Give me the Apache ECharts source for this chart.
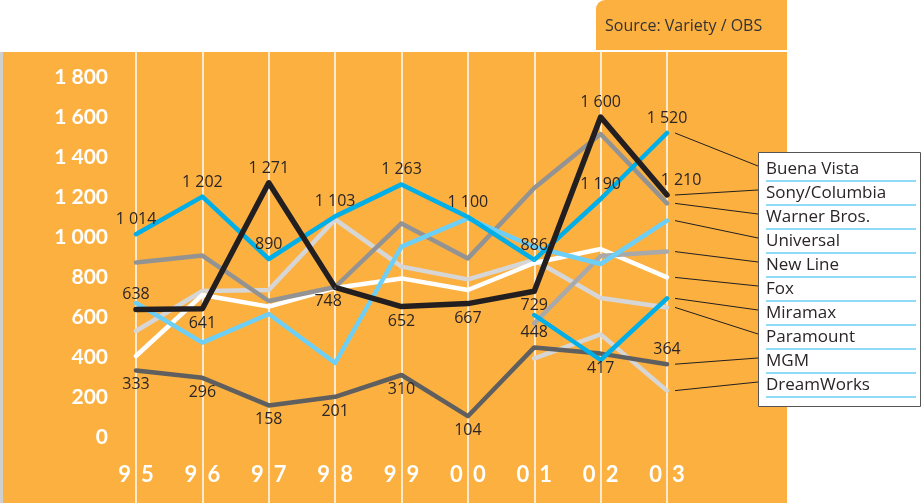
<!DOCTYPE html>
<html lang="en">
<head>
<meta charset="utf-8"/>
<title>Studios</title>
<script src="https://cdn.jsdelivr.net/npm/echarts@6.0.0/dist/echarts.min.js"></script>
<style>
    html, body { margin: 0; background: #fff; }
    #container { width: 922px; height: 503px; }
</style>
</head>
<body>
<div id="container"></div>
<script type="text/javascript">
// data (box office, millions)
var years = ['95', '96', '97', '98', '99', '00', '01', '02', '03'];
var yTicks = [0, 200, 400, 600, 800, 1000, 1200, 1400, 1600, 1800];

var buenaVista   = [1014, 1202, 890, 1103, 1263, 1100, 886, 1190, 1520];
var sonyColumbia = [638, 641, 1271, 748, 652, 667, 729, 1600, 1210];
var warnerBros   = [873, 907, 680, 750, 1068, 893, 1245, 1515, 1168];
var universal    = [670, 472, 615, 370, 952, 1093, 950, 865, 1082];
var newLine      = [null, null, null, null, null, null, 568, 905, 927];
var fox          = [405, 710, 652, 745, 793, 735, 870, 940, 798];
var miramax      = [null, null, null, null, null, null, 610, 385, 693];
var paramount    = [530, 730, 735, 1088, 852, 788, 885, 695, 648];
var mgm          = [333, 296, 158, 201, 310, 104, 448, 417, 364];
var dreamWorks   = [null, null, null, null, null, null, 393, 513, 232];

var legendNames = ['Buena Vista', 'Sony/Columbia', 'Warner Bros.', 'Universal', 'New Line',
    'Fox', 'Miramax', 'Paramount', 'MGM', 'DreamWorks'];

// which side of the line each value label sits on
var buenaSide = ['top', 'top', 'top', 'top', 'top', 'top', 'top', 'top', 'top'];
var sonySide  = ['top', 'bottom', 'top', 'bottom', 'bottom', 'bottom', 'bottom', 'top', 'top'];
var mgmSide   = ['bottom', 'bottom', 'bottom', 'bottom', 'bottom', 'bottom', 'top', 'bottom', 'top'];

function fmt(v) {
    var s = String(v);
    if (v >= 1000) s = s.slice(0, s.length - 3) + ' ' + s.slice(s.length - 3);
    return s;
}

function labelled(values, sides, shifts) {
    return values.map(function (v, i) {
        return {
            value: v,
            label: {
                show: true,
                position: sides[i],
                offset: [shifts && shifts[i] ? shifts[i] : 0, 0]
            }
        };
    });
}

function line(name, data, color, width) {
    return {
        name: name,
        type: 'line',
        data: data,
        symbol: 'circle',
        symbolSize: 1,
        showSymbol: true,
        connectNulls: false,
        itemStyle: { color: color },
        lineStyle: { color: color, width: width || 4.5, cap: 'round', join: 'round' },
        label: {
            show: false,
            distance: 6,
            color: '#2b2526',
            fontFamily: 'Open Sans',
            fontSize: 16,
            formatter: function (p) { return fmt(p.value); }
        },
        emphasis: { disabled: true },
        silent: true
    };
}

var dom = document.getElementById('container');
var myChart = echarts.init(dom);

var series = [
    line('Paramount', paramount, '#d6d6d6'),
    line('DreamWorks', dreamWorks, '#d6d6d6'),
    line('Fox', fox, '#ffffff'),
    line('New Line', newLine, '#a9a9a9'),
    line('Warner Bros.', warnerBros, '#939393'),
    line('Universal', universal, '#6dcff6'),
    line('MGM', labelled(mgm, mgmSide), '#5f5f5f'),
    line('Miramax', miramax, '#00aee8'),
    line('Buena Vista', labelled(buenaVista, buenaSide), '#00aee8'),
    line('Sony/Columbia', labelled(sonyColumbia, sonySide, [0, 0, 0, -7, 0, 0, 0, 0, 14]), '#231f20', 5.5)
];

var option = {
    animation: false,
    backgroundColor: '#ffffff',
    grid: [
        { left: 136, right: 255, top: 77, bottom: 66 },
        { left: 136, right: 255, top: 52, bottom: 0 }
    ],
    xAxis: [
        {
            type: 'category',
            gridIndex: 0,
            data: years,
            boundaryGap: false,
            axisLine: { show: false },
            axisTick: { show: false },
            splitLine: { show: false },
            axisLabel: {
                interval: 0,
                margin: 27,
                formatter: function (v) { return '{a|' + v.charAt(0) + '}{b|' + v.charAt(1) + '}'; },
                rich: {
                    a: { color: '#fff', fontFamily: 'Lato', fontWeight: 'bold', fontSize: 22, padding: [0, 5, 0, 0] },
                    b: { color: '#fff', fontFamily: 'Lato', fontWeight: 'bold', fontSize: 22, padding: [0, 0, 0, 5] }
                }
            }
        },
        {
            type: 'category',
            gridIndex: 1,
            data: years,
            boundaryGap: false,
            axisLine: { show: false },
            axisTick: { show: false },
            axisLabel: { show: false, interval: 0 },
            splitLine: { show: true, interval: 0, lineStyle: { color: '#ffffff', width: 1.5 } }
        }
    ],
    yAxis: [
        {
            type: 'value',
            gridIndex: 0,
            min: yTicks[0],
            max: yTicks[yTicks.length - 1],
            interval: 200,
            axisLine: { show: false },
            axisTick: { show: false },
            splitLine: { show: false },
            axisLabel: {
                margin: 28,
                color: '#ffffff',
                fontFamily: 'Lato',
                fontWeight: 'bold',
                fontSize: 21,
                formatter: function (v) { return fmt(v); }
            }
        },
        { type: 'value', gridIndex: 1, show: false, min: 0, max: 1 }
    ],
    series: series,
    graphic: [
        { type: 'rect', z: -5, shape: { x: 0, y: 52, width: 4, height: 451 }, style: { fill: '#cfcfcf' } },
        { type: 'rect', z: -5, shape: { x: 3, y: 52, width: 784, height: 451 }, style: { fill: '#fbb040' } },
        { type: 'rect', z: -5, shape: { x: 596, y: 0, width: 191, height: 50, r: [9, 0, 0, 0] }, style: { fill: '#fbb040' } },
        {
            type: 'text', z: 5, x: 605, y: 26,
            style: { text: 'Source: Variety / OBS', fill: '#333333', fontFamily: 'Open Sans', fontSize: 16, verticalAlign: 'middle' }
        }
    ]
};

myChart.setOption(option, true);

// legend box and leader lines from the last point of each series
var extra = [];
extra.push({
    type: 'rect', z: 20,
    shape: { x: 758.5, y: 152.5, width: 162, height: 254 },
    style: { fill: '#ffffff', stroke: '#555555', lineWidth: 1 }
});
legendNames.forEach(function (name, i) {
    var rowY = 169 + 24 * i;
    extra.push({
        type: 'text', z: 21, x: 766, y: rowY,
        style: { text: name, fill: '#2b2526', fontFamily: 'Open Sans', fontSize: 17, verticalAlign: 'middle' }
    });
    extra.push({
        type: 'line', z: 21,
        shape: { x1: 766, y1: rowY + 12, x2: 916, y2: rowY + 12 },
        style: { stroke: '#6dcff6', lineWidth: 1.5 }
    });
    var idx = -1;
    series.forEach(function (s, k) { if (s.name === name) idx = k; });
    var raw = series[idx].data[years.length - 1];
    var v = raw && typeof raw === 'object' ? raw.value : raw;
    var pt = myChart.convertToPixel({ seriesIndex: idx }, [years.length - 1, v]);
    extra.push({
        type: 'line', z: 21,
        shape: { x1: pt[0] + 8, y1: pt[1], x2: 758, y2: rowY - 3 },
        style: { stroke: '#231f20', lineWidth: 1 }
    });
});
myChart.setOption({ graphic: option.graphic.concat(extra) });
</script>
</body>
</html>
